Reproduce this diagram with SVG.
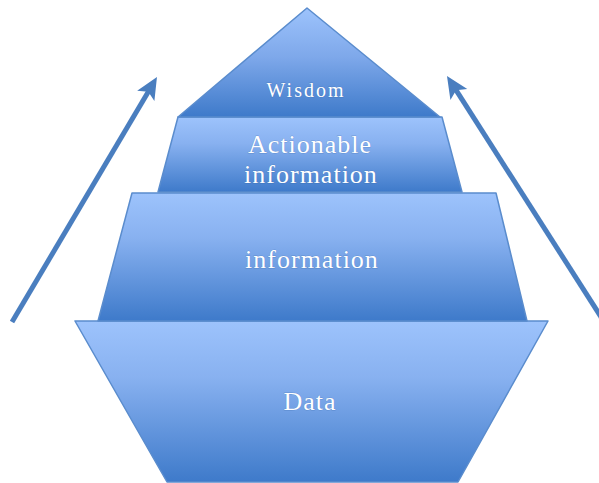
<svg xmlns="http://www.w3.org/2000/svg" width="599" height="483" viewBox="0 0 599 483">
  <defs>
    <linearGradient id="layerFill" x1="0" y1="0" x2="0" y2="1">
      <stop offset="0" stop-color="#9dc3fc"/>
      <stop offset="0.35" stop-color="#88b1f0"/>
      <stop offset="1" stop-color="#3e7aca"/>
    </linearGradient>
    <linearGradient id="peakFill" x1="0" y1="0" x2="0" y2="1">
      <stop offset="0" stop-color="#9dc3fc"/>
      <stop offset="0.45" stop-color="#7ea8ea"/>
      <stop offset="1" stop-color="#3e7aca"/>
    </linearGradient>
    <!-- blunt, slightly notched head; tip sits 8 units past the line end -->
    <marker id="arrowHead" viewBox="0 0 22 22" refX="14" refY="11" markerWidth="22" markerHeight="22" markerUnits="userSpaceOnUse" orient="auto">
      <path d="M0,1 L22,11 L0,21 L5,11 Z" fill="#4a7ebf"/>
    </marker>
    <style>
      .layer { stroke: #5a8ccd; stroke-width: 1.5; stroke-linejoin: round; }
      .label { font-family: "Liberation Serif", "Times New Roman", serif; fill: #ffffff; text-anchor: middle;
               stroke: #2f5f9f; stroke-opacity: 0.35; stroke-width: 0.8; paint-order: stroke; }
      .arrow { fill: none; stroke: #4a7ebf; stroke-width: 5; stroke-linecap: butt; }
    </style>
  </defs>

  <g id="connectors">
    <line class="arrow" x1="12" y1="322" x2="152.9" y2="83.9" marker-end="url(#arrowHead)"/>
    <line class="arrow" x1="603" y1="320" x2="451.3" y2="82.7" marker-end="url(#arrowHead)"/>
  </g>

  <g id="data">
    <polygon class="layer" points="75,321 548,321 458,482 167,482" fill="url(#layerFill)"/>
    <text class="label" x="310" y="410" font-size="26" letter-spacing="1">Data</text>
  </g>

  <g id="information">
    <polygon class="layer" points="132,193 496,193 527,321 98,321" fill="url(#layerFill)"/>
    <text class="label" x="312" y="268" font-size="26" letter-spacing="1">information</text>
  </g>

  <g id="actionable-information">
    <polygon class="layer" points="178,117 442,117 462,192 158,192" fill="url(#layerFill)"/>
    <text class="label" x="310" y="153" font-size="26" letter-spacing="1">Actionable</text>
    <text class="label" x="311" y="183" font-size="26" letter-spacing="1">information</text>
  </g>

  <g id="wisdom">
    <polygon class="layer" points="307,8 440,117 178,117" fill="url(#peakFill)"/>
    <text class="label" x="306" y="97" font-size="20" letter-spacing="2">Wisdom</text>
  </g>
</svg>
